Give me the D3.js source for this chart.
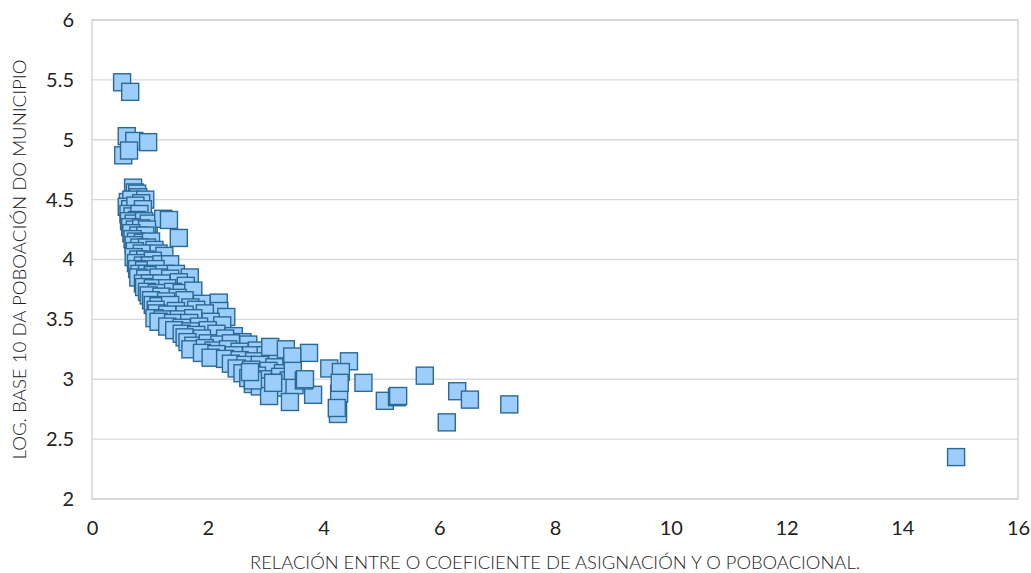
<!DOCTYPE html>
<html>
<head>
<meta charset="utf-8">
<script src="https://cdn.jsdelivr.net/npm/d3@7"></script>
<style>
  body { margin: 0; background: #fff; }
  svg { display: block; font-family: Lato, "Open Sans", sans-serif; }
</style>
</head>
<body>
<div id="chart"></div>
<script>
// values: [ratio, log10 population]
const xValues = [
  0.52, 0.66, 0.60, 0.73, 0.97, 0.54, 0.64,
  0.71, 0.74, 0.78, 0.80, 0.62, 0.68, 0.92, 0.85, 0.60, 0.66, 0.75, 0.88, 0.63, 0.70,
  0.82, 0.78, 0.64, 0.72, 0.90, 0.98, 1.23, 1.33, 0.66, 0.74, 0.85, 0.95, 0.68, 0.80,
  0.92, 1.50, 0.70, 0.76, 0.88, 1.02, 0.72, 0.82, 0.95, 1.08, 0.74, 0.86, 1.15, 1.25,
  0.72, 0.80, 0.92, 1.05, 0.76, 0.88, 1.00, 1.20, 1.35, 0.78, 0.90, 1.10, 0.82, 0.95,
  1.05, 1.25, 1.45, 0.80, 0.92, 1.15, 1.35, 1.69, 0.88, 1.00, 1.20, 1.50, 1.62, 0.90,
  1.05, 1.30, 0.95, 1.12, 1.40, 1.55, 1.75, 0.98, 1.20, 1.48, 1.02, 1.28, 1.60, 1.90,
  2.19, 1.05, 1.15, 1.35, 1.70, 1.10, 1.45, 1.80, 2.20, 1.12, 1.30, 1.60, 1.95, 1.08,
  1.22, 1.50, 1.75, 2.32, 1.15, 1.40, 1.68, 2.05, 1.30, 1.55, 1.85, 2.25, 1.42, 1.70,
  2.00, 1.55, 1.80, 2.15, 2.45, 1.60, 1.90, 2.30, 2.60, 2.70, 1.65, 1.75, 2.00, 2.20,
  2.40, 1.70, 1.95, 2.10, 2.35, 2.55, 2.85, 1.90, 2.15, 2.45, 2.75, 3.00, 2.05, 2.30,
  2.55, 2.80, 3.20, 2.40, 2.65, 2.90, 3.15, 2.50, 2.75, 3.05, 3.30, 2.60, 2.85, 3.25,
  2.70, 2.95, 3.40, 2.78, 3.13, 2.90, 3.30, 3.50,
  3.08, 3.35, 3.75, 3.46, 4.10, 4.44, 4.30, 3.47, 4.69, 3.82, 4.27, 3.06, 3.42, 4.25,
  4.25, 5.06, 5.27, 2.78, 3.66, 3.13, 2.73, 4.28, 5.75, 6.31, 6.53, 7.21, 6.13, 5.29,
  4.23, 3.68, 14.93
];
const yValues = [
  5.48, 5.40, 5.03, 4.99, 4.98, 4.87, 4.91,
  4.60, 4.56, 4.55, 4.52, 4.48, 4.50, 4.50, 4.47, 4.44, 4.42, 4.45, 4.42, 4.38, 4.36,
  4.38, 4.33, 4.32, 4.30, 4.32, 4.30, 4.34, 4.33, 4.27, 4.25, 4.26, 4.25, 4.22, 4.20,
  4.20, 4.18, 4.17, 4.15, 4.14, 4.15, 4.12, 4.10, 4.10, 4.08, 4.07, 4.05, 4.05, 4.03,
  4.02, 4.00, 4.00, 3.99, 3.97, 3.95, 3.95, 3.96, 3.96, 3.92, 3.91, 3.92, 3.88, 3.88,
  3.87, 3.88, 3.88, 3.85, 3.84, 3.85, 3.84, 3.85, 3.80, 3.80, 3.80, 3.81, 3.78, 3.77,
  3.76, 3.76, 3.73, 3.72, 3.73, 3.72, 3.74, 3.70, 3.69, 3.68, 3.66, 3.65, 3.66, 3.63,
  3.64, 3.62, 3.61, 3.62, 3.60, 3.58, 3.57, 3.58, 3.57, 3.55, 3.54, 3.54, 3.55, 3.51,
  3.50, 3.50, 3.51, 3.52, 3.48, 3.47, 3.47, 3.48, 3.44, 3.43, 3.44, 3.45, 3.41, 3.40,
  3.41, 3.38, 3.37, 3.38, 3.36, 3.35, 3.34, 3.34, 3.31, 3.29, 3.31, 3.28, 3.30, 3.29,
  3.30, 3.25, 3.26, 3.24, 3.25, 3.23, 3.24, 3.22, 3.21, 3.20, 3.20, 3.20, 3.18, 3.17,
  3.16, 3.15, 3.16, 3.13, 3.12, 3.12, 3.10, 3.09, 3.08, 3.07, 3.05, 3.05, 3.03, 3.02,
  3.01, 3.00, 2.99, 2.96, 2.97, 2.94, 2.93, 2.95,
  3.27, 3.25, 3.22, 3.19, 3.09, 3.15, 3.06, 3.07, 2.97, 2.87, 2.88, 2.86, 2.81, 2.74,
  2.71, 2.82, 2.85, 2.99, 2.99, 2.97, 3.06, 2.97, 3.03, 2.90, 2.83, 2.79, 2.64, 2.86,
  2.76, 3.00, 2.35
];
const xTicks = [0, 2, 4, 6, 8, 10, 12, 14, 16];
const yTicks = [2, 2.5, 3, 3.5, 4, 4.5, 5, 5.5, 6];
const xTitle = "RELACIÓN ENTRE O COEFICIENTE DE ASIGNACIÓN Y O POBOACIONAL.";
const yTitle = "LOG. BASE 10 DA POBOACIÓN DO MUNICIPIO";

const width = 1031;
const height = 573;
const margin = { top: 20, right: 13, bottom: 74, left: 92 };

const points = xValues.map((x, i) => ({ x: x, y: yValues[i] }));

const x = d3.scaleLinear().domain([0, 16]).range([margin.left, width - margin.right]);
const y = d3.scaleLinear().domain([2, 6]).range([height - margin.bottom, margin.top]);

const svg = d3.select("#chart")
  .append("svg")
  .attr("width", width)
  .attr("height", height);

// horizontal gridlines
svg.append("g")
  .selectAll("line")
  .data(yTicks)
  .enter().append("line")
  .attr("x1", x(0))
  .attr("x2", x(16))
  .attr("y1", d => y(d))
  .attr("y2", d => y(d))
  .attr("stroke", "#d9d9d9")
  .attr("stroke-width", 1.3);

// plot frame
svg.append("rect")
  .attr("x", x(0))
  .attr("y", y(6))
  .attr("width", x(16) - x(0))
  .attr("height", y(2) - y(6))
  .attr("fill", "none")
  .attr("stroke", "#d0d0d0")
  .attr("stroke-width", 1.3);

const xAxis = svg.append("g")
  .attr("transform", `translate(0,${y(2)})`)
  .call(d3.axisBottom(x).tickValues(xTicks).tickSize(0).tickPadding(22));

const yAxis = svg.append("g")
  .attr("transform", `translate(${x(0)},0)`)
  .call(d3.axisLeft(y).tickValues(yTicks).tickFormat(d3.format("")).tickSize(0).tickPadding(18));

[xAxis, yAxis].forEach(a => {
  a.select(".domain").remove();
  a.selectAll("text")
    .attr("font-family", "Lato, 'Open Sans', sans-serif")
    .attr("font-size", "20px")
    .attr("fill", "#222");
});

const size = 17;
svg.append("g")
  .selectAll("rect")
  .data(points)
  .enter().append("rect")
  .attr("x", d => x(d.x) - size / 2)
  .attr("y", d => y(d.y) - size / 2)
  .attr("width", size)
  .attr("height", size)
  .attr("fill", "#9dcdfa")
  .attr("stroke", "#2a6a96")
  .attr("stroke-width", 1.4);

svg.append("text")
  .attr("x", (x(0) + x(16)) / 2)
  .attr("y", 569)
  .attr("text-anchor", "middle")
  .attr("font-size", "17px")
  .attr("font-weight", 300)
  .attr("fill", "#222")
  .attr("textLength", 610)
  .attr("lengthAdjust", "spacingAndGlyphs")
  .text(xTitle);

svg.append("text")
  .attr("transform", `translate(26,${(y(2) + y(6)) / 2}) rotate(-90)`)
  .attr("text-anchor", "middle")
  .attr("font-size", "17px")
  .attr("font-weight", 300)
  .attr("fill", "#222")
  .attr("textLength", 400)
  .attr("lengthAdjust", "spacingAndGlyphs")
  .text(yTitle);
</script>
</body>
</html>
